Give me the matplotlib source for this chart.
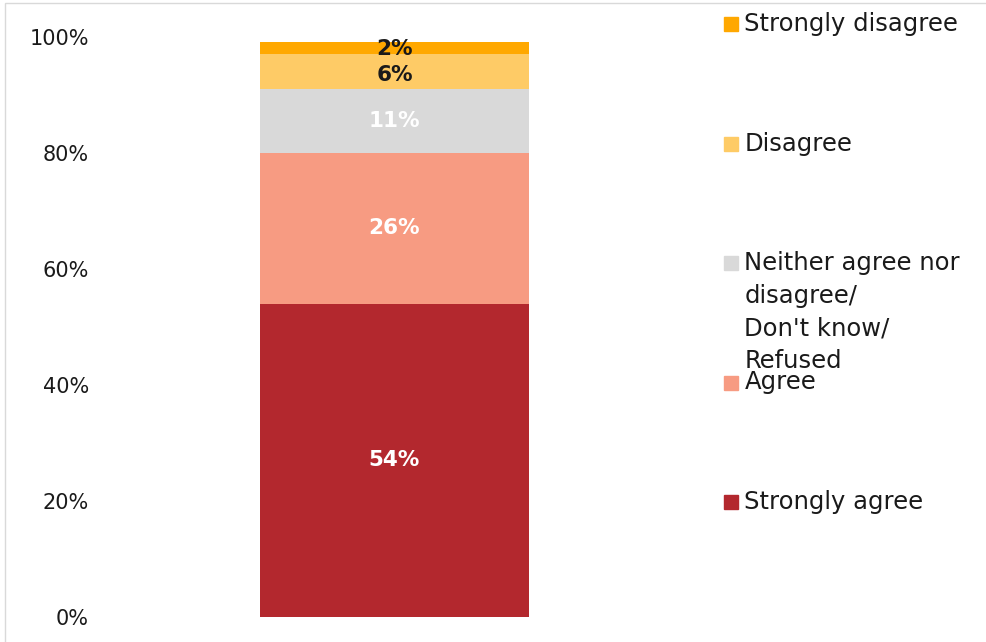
import matplotlib.pyplot as plt
from matplotlib.patches import Rectangle

plt.rcParams['font.family'] = ['DejaVu Sans']

# data, bottom to top
categories = ["Strongly agree", "Agree",
              "Neither agree nor\ndisagree/\nDon't know/\nRefused",
              "Disagree", "Strongly disagree"]
values = [54, 26, 11, 6, 2]
colors = ["#B3282E", "#F79B82", "#D9D9D9", "#FECB66", "#FFA800"]
label_colors = ["white", "white", "white", "#1a1a1a", "#1a1a1a"]
yticks = [0, 20, 40, 60, 80, 100]
ytick_labels = ["0%", "20%", "40%", "60%", "80%", "100%"]

fig = plt.figure(figsize=(9.86, 6.42), dpi=100)
ax = fig.add_axes([0.10, 0.039, 0.60, 0.904])

bottom = 0
for i, (v, c) in enumerate(zip(values, colors)):
    ax.bar(0, v, bottom=bottom, width=0.455, color=c)
    # the two thin top segments have labels nudged so they do not collide
    ypos = bottom + v / 2
    if i == 4:
        ypos = bottom + v / 2 - 0.2
    elif i == 3:
        ypos = bottom + v / 2 - 0.6
    ax.text(0, ypos, f"{v}%", ha="center", va="center",
            fontsize=15.5, fontweight="bold", color=label_colors[i])
    bottom += v

ax.set_xlim(-0.5, 0.5)
ax.set_ylim(0, 100)
ax.set_yticks(yticks)
ax.set_yticklabels(ytick_labels, fontsize=15, color="#1a1a1a")
ax.tick_params(axis="y", length=0, pad=7)
ax.set_xticks([])
for s in ax.spines.values():
    s.set_visible(False)

# legend, top to bottom at even spacing
n = len(categories)
for k in range(n):
    idx = n - 1 - k
    y = 0.963 - k * 0.186
    fig.patches.append(Rectangle((0.734, y - 0.012), 0.0145, 0.022,
                                 transform=fig.transFigure,
                                 color=colors[idx]))
    fig.text(0.755, y + 0.018, categories[idx], ha="left", va="top",
             fontsize=17.5, color="#1a1a1a", linespacing=1.45)

# thin frame around the chart
fig.patches.append(Rectangle((0.005, -0.01), 1.2, 1.005,
                             transform=fig.transFigure, fill=False,
                             edgecolor="#d9d9d9", lw=1))

fig.savefig("out.png", dpi=100)
